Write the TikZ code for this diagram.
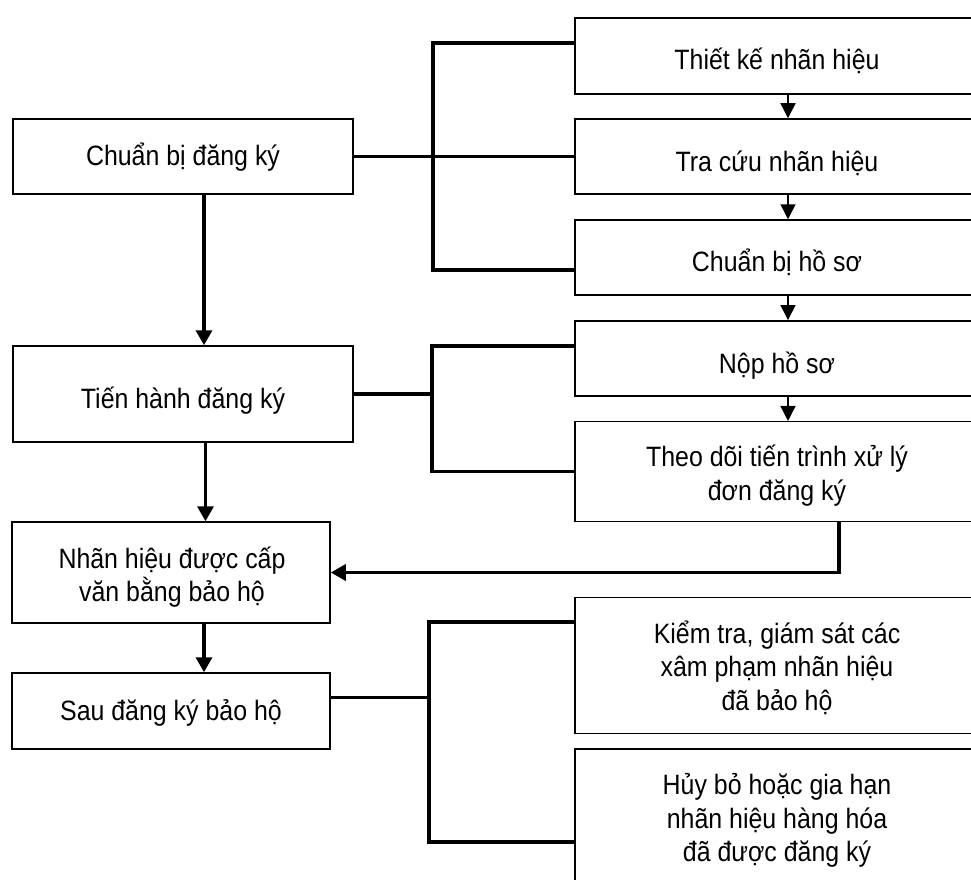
\documentclass[tikz,border=0pt]{standalone}
\usepackage{fontspec}
\setmainfont{Liberation Sans}[FakeStretch=0.89]
\usetikzlibrary{arrows.meta}

\begin{document}
\begin{tikzpicture}[x=1pt,y=-1pt,
  box/.style={draw, line width=1.5pt, fill=white, inner sep=0pt},
  rightbox/.style={box, minimum width=404pt},
  % text is placed by the baseline of its last line
  txt/.style={align=center, anchor=base, inner sep=0pt,
    font=\fontsize{28}{33.5}\selectfont},
  conn/.style={line width=3.5pt},
  flow/.style={line width=3.5pt, -{Triangle[length=15pt,width=16pt]}},
  substep/.style={line width=1.5pt, -{Triangle[length=15pt,width=15pt]}},
]
\useasboundingbox (0,0) rectangle (971,880);

% main stages
\node[box, minimum width=340pt, minimum height=75pt]  (L1) at (183,156.5) {};
\node[box, minimum width=340pt, minimum height=96pt]  (L2) at (183,394)   {};
\node[box, minimum width=318pt, minimum height=101pt] (L3) at (171,572.5) {};
\node[box, minimum width=318pt, minimum height=76pt]  (L4) at (171,711)   {};
\node[txt] (L1t) at (183,165.7) {Chuẩn bị đăng ký};
\node[txt] (L2t) at (183,408.3) {Tiến hành đăng ký};
\node[txt] (L3t) at (172,601.7) {Nhãn hiệu được cấp\\văn bằng bảo hộ};
\node[txt] (L4t) at (171,720)   {Sau đăng ký bảo hộ};

% detailed steps
\node[rightbox, minimum height=76pt]    (R1) at (777,56)    {};
\node[rightbox, minimum height=75pt]    (R2) at (777,156.5) {};
\node[rightbox, minimum height=75pt]    (R3) at (777,257.5) {};
\node[rightbox, minimum height=75pt]    (R4) at (777,358.3) {};
\node[rightbox, minimum height=100pt]   (R5) at (777,471.7) {};
\node[rightbox, minimum height=135.6pt] (R6) at (777,665.5) {};
\node[rightbox, minimum height=142pt]   (R7) at (777,820)   {};
\node[txt] (R1t) at (777,70)    {Thiết kế nhãn hiệu};
\node[txt] (R2t) at (777,171)   {Tra cứu nhãn hiệu};
\node[txt] (R3t) at (777,271.7) {Chuẩn bị hồ sơ};
\node[txt] (R4t) at (777,373.3) {Nộp hồ sơ};
\node[txt] (R5t) at (777,500)   {Theo dõi tiến trình xử lý\\đơn đăng ký};
\node[txt] (R6t) at (777,710)   {Kiểm tra, giám sát các\\xâm phạm nhãn hiệu\\đã bảo hộ};
\node[txt] (R7t) at (777,861.7) {Hủy bỏ hoặc gia hạn\\nhãn hiệu hàng hóa\\đã được đăng ký};

% main flow
\draw[flow] ([xshift=21pt]L1.south) -- ([xshift=21pt]L2.north);
\draw[flow] ([xshift=22.5pt]L2.south) -- ([xshift=22.5pt]L2.south |- L3.north);
\draw[flow] ([xshift=33pt]L3.south) -- ([xshift=33pt]L4.north);

% step order
\draw[substep] ([xshift=11pt]R1.south) -- ([xshift=11pt]R2.north);
\draw[substep] ([xshift=11pt]R2.south) -- ([xshift=11pt]R3.north);
\draw[substep] ([xshift=11pt]R3.south) -- ([xshift=11pt]R4.north);
\draw[substep] ([xshift=11pt]R4.south) -- ([xshift=11pt]R5.north);

% brackets
\coordinate (b1) at (433,156.5);
\draw[conn] (L1.east) -- (R2.west);
\draw[conn] ([yshift=13pt]R1.west) -| (b1) |- ([yshift=-12.5pt]R3.west);

\coordinate (b2) at (432,394);
\draw[conn] (L2.east) -- (b2);
\draw[conn] ([yshift=12.3pt]R4.west) -| (b2) |- (R5.west);

\coordinate (b3) at (429,697.3);
\draw[conn] ([yshift=13.7pt]L4.east) -- (b3);
\draw[conn] ([yshift=43.5pt]R6.west) -| (b3) |- ([yshift=-22pt]R7.west);

% return to the certificate stage
\draw[flow] ([xshift=62pt]R5.south) |- (L3.east);
\end{tikzpicture}
\end{document}
